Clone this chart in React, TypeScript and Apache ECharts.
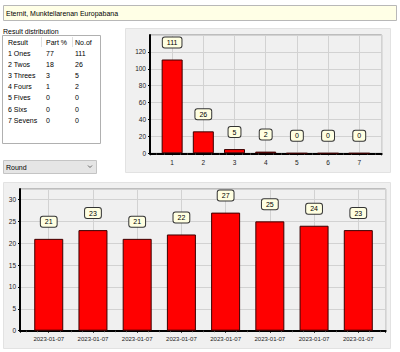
import React, { useEffect, useRef } from "react";
import * as echarts from "echarts";

const titleText = "Eternit, Munktellarenan Europabana";
const tableTitle = "Result distribution";
const tableHeaders = ["Result", "Part %", "No.of"];
const resultNames = ["1 Ones", "2 Twos", "3 Threes", "4 Fours", "5 Fives", "6 Sixs", "7 Sevens"];
const partPct = [77, 18, 3, 1, 0, 0, 0];
const countOf = [111, 26, 5, 2, 0, 0, 0];
const distCategories = [1, 2, 3, 4, 5, 6, 7];
const roundDates = ["2023-01-07", "2023-01-07", "2023-01-07", "2023-01-07", "2023-01-07", "2023-01-07", "2023-01-07", "2023-01-07"];
const roundValues = [21, 23, 21, 22, 27, 25, 24, 23];
const dropdownText = "Round";

const FONT = "Liberation Sans, Arial, sans-serif";

export default function App() {
  const ref = useRef<HTMLDivElement>(null);
  useEffect(() => {
    if (!ref.current) return;
    const chart = echarts.init(ref.current, undefined, { renderer: "svg" });

    const graphics: any[] = [];
    // panels
    graphics.push({ type: "rect", z: -10, shape: { x: 125.5, y: 28.5, width: 265, height: 144 }, style: { fill: "#f0f0f0", stroke: "#e2e2e2", lineWidth: 1 } });
    graphics.push({ type: "rect", z: -10, shape: { x: 3.5, y: 182.5, width: 387, height: 166 }, style: { fill: "#f0f0f0", stroke: "#e2e2e2", lineWidth: 1 } });
    // title textbox
    graphics.push({ type: "rect", z: 10, shape: { x: 3.5, y: 5.5, width: 393, height: 15 }, style: { fill: "#ffffe6", stroke: "#b8b8b8", lineWidth: 1 } });
    graphics.push({ type: "text", z: 11, x: 6, y: 13, style: { text: titleText, fontSize: 7, fontFamily: FONT, fill: "#000000", verticalAlign: "middle" } });
    // table
    graphics.push({ type: "text", z: 11, x: 3, y: 31, style: { text: tableTitle, fontSize: 7, fontFamily: FONT, fill: "#000000", verticalAlign: "middle" } });
    graphics.push({ type: "rect", z: 10, shape: { x: 2.5, y: 35.5, width: 98, height: 108 }, style: { fill: "#ffffff", stroke: "#b0b0b0", lineWidth: 1 } });
    const colX = [8, 46, 75];
    graphics.push({ type: "line", z: 11, shape: { x1: 41.5, y1: 37, x2: 41.5, y2: 47 }, style: { stroke: "#e0e0e0", lineWidth: 1 } });
    graphics.push({ type: "line", z: 11, shape: { x1: 72.5, y1: 37, x2: 72.5, y2: 47 }, style: { stroke: "#e0e0e0", lineWidth: 1 } });
    tableHeaders.forEach((h, i) => {
      graphics.push({ type: "text", z: 11, x: colX[i], y: 42, style: { text: h, fontSize: 7, fontFamily: FONT, fill: "#000000", verticalAlign: "middle" } });
    });
    resultNames.forEach((name, r) => {
      const y = 53.3 + r * 11.15;
      [name, String(partPct[r]), String(countOf[r])].forEach((t, c) => {
        graphics.push({ type: "text", z: 11, x: colX[c], y, style: { text: t, fontSize: 7, fontFamily: FONT, fill: "#000000", verticalAlign: "middle" } });
      });
    });
    // dropdown
    graphics.push({ type: "rect", z: 10, shape: { x: 3.5, y: 160.5, width: 93, height: 13 }, style: { fill: "#e5e5e5", stroke: "#c4c4c4", lineWidth: 1 } });
    graphics.push({ type: "text", z: 11, x: 6, y: 167, style: { text: dropdownText, fontSize: 7, fontFamily: FONT, fill: "#000000", verticalAlign: "middle" } });
    graphics.push({ type: "polyline", z: 11, shape: { points: [[88, 165.5], [90, 167.5], [92, 165.5]] }, style: { stroke: "#666", lineWidth: 1, fill: null } });

    const labelStyle = {
      show: true,
      position: "top",
      distance: 12,
      backgroundColor: "#ffffe1",
      borderColor: "#333",
      borderWidth: 1,
      borderRadius: 2,
      padding: [1, 4, 1, 4],
      fontSize: 7,
      lineHeight: 8,
      fontFamily: FONT,
      color: "#000",
    };

    const axisLabelStyle = { fontSize: 6, color: "#222", fontFamily: FONT };

    chart.setOption({
      animation: false,
      textStyle: { fontFamily: FONT },
      graphic: graphics,
      grid: [
        { left: 150, top: 35, width: 231.7, height: 118.3, show: true, backgroundColor: "#f0f0f0", borderColor: "#8a8a8a", borderWidth: 1 },
        { left: 20, top: 189, width: 365.7, height: 141.7, show: true, backgroundColor: "#f0f0f0", borderColor: "#8a8a8a", borderWidth: 1 },
      ],
      xAxis: [
        {
          type: "value",
          gridIndex: 0,
          min: 0.29,
          max: 7.72,
          splitNumber: 7,
          axisLine: { show: true, lineStyle: { color: "#000", width: 2 } },
          axisTick: { show: true, length: 2, lineStyle: { color: "#000" } },
          minorTick: { show: true, splitNumber: 4, length: 1.5, lineStyle: { color: "#444" } },
          axisLabel: {
            ...axisLabelStyle,
            fontSize: 6.5,
            margin: 6,
            formatter: (v: number) => (Math.abs(v - Math.round(v)) < 1e-6 && distCategories.includes(Math.round(v)) ? String(Math.round(v)) : ""),
          },
          splitLine: { show: true, lineStyle: { color: "#d2d2d2", width: 1 } },
        },
        {
          type: "value",
          gridIndex: 1,
          min: 0.35,
          max: 8.62,
          splitNumber: 8,
          axisLine: { show: true, lineStyle: { color: "#000", width: 2 } },
          axisTick: { show: true, length: 2, lineStyle: { color: "#000" } },
          minorTick: { show: true, splitNumber: 4, length: 1.5, lineStyle: { color: "#444" } },
          axisLabel: {
            ...axisLabelStyle,
            margin: 5,
            formatter: (v: number) => {
              const i = Math.round(v);
              return Math.abs(v - i) < 1e-6 && i >= 1 && i <= roundDates.length ? roundDates[i - 1] : "";
            },
          },
          splitLine: { show: true, lineStyle: { color: "#d2d2d2", width: 1 } },
        },
      ],
      yAxis: [
        {
          type: "value",
          gridIndex: 0,
          min: 0,
          max: 140,
          interval: 20,
          axisLine: { show: true, lineStyle: { color: "#000", width: 2 } },
          axisTick: { show: true, length: 2, lineStyle: { color: "#000" } },
          axisLabel: { ...axisLabelStyle, fontSize: 6.5, margin: 4, showMaxLabel: false },
          splitLine: { show: true, lineStyle: { color: "#d2d2d2", width: 1 } },
        },
        {
          type: "value",
          gridIndex: 1,
          min: 0,
          max: 32.4,
          interval: 5,
          axisLine: { show: true, lineStyle: { color: "#000", width: 2 } },
          axisTick: { show: true, length: 2, lineStyle: { color: "#000" } },
          axisLabel: { ...axisLabelStyle, fontSize: 6.5, margin: 4, showMaxLabel: false },
          splitLine: { show: true, lineStyle: { color: "#d2d2d2", width: 1 } },
        },
      ],
      series: [
        {
          type: "bar",
          xAxisIndex: 0,
          yAxisIndex: 0,
          barWidth: 21,
          data: distCategories.map((c, i) => [c, countOf[i]]),
          itemStyle: { color: "#ff0000", borderColor: "#3a0000", borderWidth: 1 },
          label: { ...labelStyle, formatter: (p: any) => String(p.value[1]) },
        },
        {
          type: "bar",
          xAxisIndex: 1,
          yAxisIndex: 1,
          barWidth: 29,
          data: roundValues.map((v, i) => [i + 1, v]),
          itemStyle: { color: "#ff0000", borderColor: "#3a0000", borderWidth: 1 },
          label: { ...labelStyle, formatter: (p: any) => String(p.value[1]) },
        },
      ],
    });
    return () => chart.dispose();
  }, []);
  return <div ref={ref} style={{ position: "absolute", left: 0, top: 0, width: 400, height: 352, background: "#ffffff" }} />;
}
